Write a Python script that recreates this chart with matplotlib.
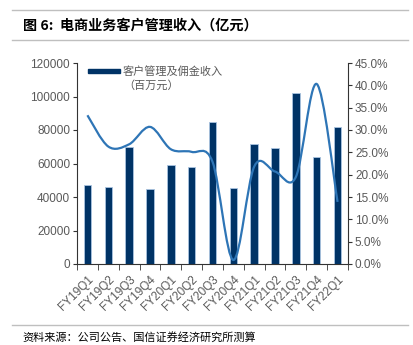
import numpy as np
import matplotlib
matplotlib.use('Agg')
import matplotlib.pyplot as plt
from matplotlib.path import Path
from matplotlib.patches import PathPatch, Rectangle
from matplotlib.ticker import FuncFormatter, FixedLocator

plt.rcParams['font.family'] = ['Liberation Sans', 'Noto Sans CJK SC', 'DejaVu Sans']

quarters = ['FY19Q1', 'FY19Q2', 'FY19Q3', 'FY19Q4', 'FY20Q1', 'FY20Q2', 'FY20Q3',
            'FY20Q4', 'FY21Q1', 'FY21Q2', 'FY21Q3', 'FY21Q4', 'FY22Q1']
# 客户管理及佣金收入（百万元）
income = [47000, 46200, 69800, 45000, 59000, 57800, 84800,
          45500, 71500, 69500, 102200, 64000, 81500]
# 占比（右轴）
share = [33.3, 26.3, 26.8, 30.7, 25.7, 25.1, 22.9,
         0.9, 21.8, 20.7, 19.5, 40.3, 13.9]

navy = '#003366'
blue = '#2E75B6'
gray = '#595959'
cjk = ['Noto Sans CJK SC', 'DejaVu Sans']

fig = plt.figure(figsize=(4.14, 3.45), dpi=100)
W, H = 414, 345

# 标题和分隔线
fig.add_artist(plt.Line2D([12/W, 408/W], [1-10/H, 1-10/H], color='#bfbfbf', lw=1))
fig.add_artist(plt.Line2D([12/W, 408/W], [1-40/H, 1-40/H], color='#bfbfbf', lw=1))
fig.add_artist(plt.Line2D([12/W, 408/W], [1-325/H, 1-325/H], color='#bfbfbf', lw=1))
fig.text(23/W, 1-26/H, '图 6:  电商业务客户管理收入（亿元）', fontsize=10.2, fontweight='bold',
         family=cjk, va='center', ha='left')
fig.text(22/W, 1-337/H, '资料来源：公司公告、国信证券经济研究所测算', fontsize=8,
         family=cjk, va='center', ha='left')

ax = fig.add_axes([77/W, 1-264/H, (348-77)/W, (264-63)/H])
x = np.arange(len(quarters))
ax.bar(x, income, width=0.36, color=navy, edgecolor='#a9c4e0', linewidth=0.6, zorder=2)
ax.set_xlim(-0.5, len(quarters)-0.5)
ax.set_ylim(0, 120000)
ax.set_yticks(range(0, 120001, 20000))
ax.tick_params(axis='y', direction='out', length=3, colors='#333333', labelcolor=gray,
               labelsize=8.5, pad=2)
ax.set_xticks(x)
ax.set_xticklabels(quarters, rotation=45, ha='right', rotation_mode='anchor',
                   fontsize=8.5, color=gray)
ax.tick_params(axis='x', which='major', length=0, pad=7)
ax.xaxis.set_minor_locator(FixedLocator(np.arange(-0.5, len(quarters), 1.0)))
ax.tick_params(axis='x', which='minor', length=4, direction='out', color='#333333')
for s in ['top', 'right']:
    ax.spines[s].set_visible(False)
for s in ['left', 'bottom']:
    ax.spines[s].set_color('#333333')

# 右轴：平滑曲线
ax2 = ax.twinx()
ax2.set_ylim(0, 45)
ax2.set_yticks(np.arange(0, 45.1, 5))
ax2.yaxis.set_major_formatter(FuncFormatter(lambda v, p: f'{v:.1f}%'))
ax2.tick_params(axis='y', direction='out', length=3, colors='#333333', labelcolor=gray,
                labelsize=8.5, pad=2)
for s in ['top', 'left', 'bottom']:
    ax2.spines[s].set_visible(False)
ax2.spines['right'].set_color('#333333')

pts = np.column_stack([x, share]).astype(float)
verts = [tuple(pts[0])]
codes = [Path.MOVETO]
t = 1/6
for i in range(len(pts)-1):
    p0 = pts[i-1] if i > 0 else pts[i]
    p1, p2 = pts[i], pts[i+1]
    p3 = pts[i+2] if i+2 < len(pts) else pts[i+1]
    c1 = p1 + (p2 - p0)*t
    c2 = p2 - (p3 - p1)*t
    verts += [tuple(c1), tuple(c2), tuple(p2)]
    codes += [Path.CURVE4]*3
ax2.add_patch(PathPatch(Path(verts, codes), facecolor='none', edgecolor=blue, lw=1.6, zorder=3))

# 图例
fig.add_artist(Rectangle((88/W, 1-73/H), 32/W, 4/H, color=navy, transform=fig.transFigure))
fig.text(123/W, 1-71/H, '客户管理及佣金收入', fontsize=8, color=gray,
         family=cjk, va='center', ha='left')
fig.text(123/W, 1-85/H, '（百万元）', fontsize=8, color=gray,
         family=cjk, va='center', ha='left')

fig.savefig('out.png', dpi=100)
